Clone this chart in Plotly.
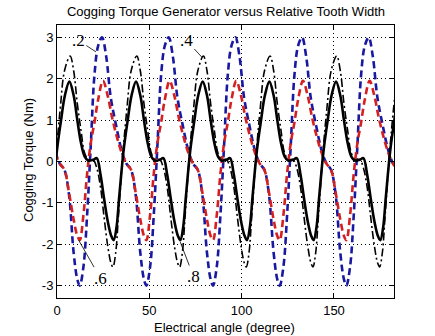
import plotly.graph_objects as go

# ---- data ----
# relative tooth width 0.2 (blue dashed)
x_w02 = [-1.0, 1.5, 4.0, 6.5, 9.0, 11.0,
         12.3, 14.3, 16.3, 18.3, 20.3, 22.3, 24.4, 26.6, 29.1, 32.1, 35.1, 37.6, 40.1, 42.6, 45.1, 47.1,
         48.4, 50.4, 52.4, 54.4, 56.4, 58.4, 60.5, 62.7, 65.2, 68.2, 71.2, 73.7, 76.2, 78.7, 81.2, 83.2,
         84.5, 86.5, 88.5, 90.5, 92.5, 94.5, 96.6, 98.8, 101.3, 104.3, 107.3, 109.8, 112.3, 114.8, 117.3, 119.3,
         120.6, 122.6, 124.6, 126.6, 128.6, 130.6, 132.7, 134.9, 137.4, 140.4, 143.4, 145.9, 148.4, 150.9, 153.4, 155.4,
         156.7, 158.7, 160.7, 162.7, 164.7, 166.7, 168.8, 171.0, 173.5, 176.5, 179.5, 182.0, 184.5]
y_w02 = [0.25, -0.05, -0.2, -0.8, -2.2, -2.85,
         -3.0, -2.55, -1.3, 0.4, 2.1, 2.8, 3.0, 2.55, 1.55, 0.85, 0.25, -0.05, -0.2, -0.8, -2.2, -2.85,
         -3.0, -2.55, -1.3, 0.4, 2.1, 2.8, 3.0, 2.55, 1.55, 0.85, 0.25, -0.05, -0.2, -0.8, -2.2, -2.85,
         -3.0, -2.55, -1.3, 0.4, 2.1, 2.8, 3.0, 2.55, 1.55, 0.85, 0.25, -0.05, -0.2, -0.8, -2.2, -2.85,
         -3.0, -2.55, -1.3, 0.4, 2.1, 2.8, 3.0, 2.55, 1.55, 0.85, 0.25, -0.05, -0.2, -0.8, -2.2, -2.85,
         -3.0, -2.55, -1.3, 0.4, 2.1, 2.8, 3.0, 2.55, 1.55, 0.85, 0.25, -0.05, -0.2]

# relative tooth width 0.4 (black dash-dot)
x_w04 = [-2.8, -0.4, 1.8, 4.1, 7.1, 9.0, 11.0, 13.0, 15.0, 17.0, 19.5, 21.5, 23.5, 25.5, 27.5, 29.2,
         30.3, 31.8, 33.3, 35.7, 37.9, 40.2, 43.2, 45.1, 47.1, 49.1, 51.1, 53.1, 55.6, 57.6, 59.6, 61.6, 63.6, 65.3,
         66.4, 67.9, 69.4, 71.8, 74.0, 76.3, 79.3, 81.2, 83.2, 85.2, 87.2, 89.2, 91.7, 93.7, 95.7, 97.7, 99.7, 101.4,
         102.5, 104.0, 105.5, 107.9, 110.1, 112.4, 115.4, 117.3, 119.3, 121.3, 123.3, 125.3, 127.8, 129.8, 131.8, 133.8, 135.8, 137.5,
         138.6, 140.1, 141.6, 144.0, 146.2, 148.5, 151.5, 153.4, 155.4, 157.4, 159.4, 161.4, 163.9, 165.9, 167.9, 169.9, 171.9, 173.6,
         174.7, 176.2, 177.7, 180.1, 182.3, 184.6]
y_w04 = [-1.3, 0.2, 1.3, 2.2, 2.55, 2.2, 1.4, 0.75, 0.2, 0.05, 0.05, -0.15, -0.6, -1.35, -2.05, -2.45,
         -2.55, -2.2, -1.3, 0.2, 1.3, 2.2, 2.55, 2.2, 1.4, 0.75, 0.2, 0.05, 0.05, -0.15, -0.6, -1.35, -2.05, -2.45,
         -2.55, -2.2, -1.3, 0.2, 1.3, 2.2, 2.55, 2.2, 1.4, 0.75, 0.2, 0.05, 0.05, -0.15, -0.6, -1.35, -2.05, -2.45,
         -2.55, -2.2, -1.3, 0.2, 1.3, 2.2, 2.55, 2.2, 1.4, 0.75, 0.2, 0.05, 0.05, -0.15, -0.6, -1.35, -2.05, -2.45,
         -2.55, -2.2, -1.3, 0.2, 1.3, 2.2, 2.55, 2.2, 1.4, 0.75, 0.2, 0.05, 0.05, -0.15, -0.6, -1.35, -2.05, -2.45,
         -2.55, -2.2, -1.3, 0.2, 1.3, 2.2]

# relative tooth width 0.6 (red dashed)
x_w06 = [-1.0, 1.5, 4.0, 6.5, 9.0, 11.0,
         12.3, 14.3, 16.3, 18.3, 20.3, 22.3, 24.9, 27.4, 29.9, 32.4, 35.1, 37.6, 40.1, 42.6, 45.1, 47.1,
         48.4, 50.4, 52.4, 54.4, 56.4, 58.4, 61.0, 63.5, 66.0, 68.5, 71.2, 73.7, 76.2, 78.7, 81.2, 83.2,
         84.5, 86.5, 88.5, 90.5, 92.5, 94.5, 97.1, 99.6, 102.1, 104.6, 107.3, 109.8, 112.3, 114.8, 117.3, 119.3,
         120.6, 122.6, 124.6, 126.6, 128.6, 130.6, 133.2, 135.7, 138.2, 140.7, 143.4, 145.9, 148.4, 150.9, 153.4, 155.4,
         156.7, 158.7, 160.7, 162.7, 164.7, 166.7, 169.3, 171.8, 174.3, 176.8, 179.5, 182.0, 184.5]
y_w06 = [0.2, -0.05, -0.2, -0.75, -1.4, -1.8,
         -1.9, -1.3, -0.3, 0.45, 0.95, 1.5, 1.95, 1.6, 1.05, 0.6, 0.2, -0.05, -0.2, -0.75, -1.4, -1.8,
         -1.9, -1.3, -0.3, 0.45, 0.95, 1.5, 1.95, 1.6, 1.05, 0.6, 0.2, -0.05, -0.2, -0.75, -1.4, -1.8,
         -1.9, -1.3, -0.3, 0.45, 0.95, 1.5, 1.95, 1.6, 1.05, 0.6, 0.2, -0.05, -0.2, -0.75, -1.4, -1.8,
         -1.9, -1.3, -0.3, 0.45, 0.95, 1.5, 1.95, 1.6, 1.05, 0.6, 0.2, -0.05, -0.2, -0.75, -1.4, -1.8,
         -1.9, -1.3, -0.3, 0.45, 0.95, 1.5, 1.95, 1.6, 1.05, 0.6, 0.2, -0.05, -0.2]

# relative tooth width 0.8 (black solid)
x_w08 = [-2.4, 0.0, 2.2, 4.3, 6.7, 9.0, 11.0, 13.0, 15.0, 17.0, 19.5, 21.5, 23.5, 25.5, 27.5, 29.4,
         30.7, 32.2, 33.7, 36.1, 38.3, 40.4, 42.8, 45.1, 47.1, 49.1, 51.1, 53.1, 55.6, 57.6, 59.6, 61.6, 63.6, 65.5,
         66.8, 68.3, 69.8, 72.2, 74.4, 76.5, 78.9, 81.2, 83.2, 85.2, 87.2, 89.2, 91.7, 93.7, 95.7, 97.7, 99.7, 101.6,
         102.9, 104.4, 105.9, 108.3, 110.5, 112.6, 115.0, 117.3, 119.3, 121.3, 123.3, 125.3, 127.8, 129.8, 131.8, 133.8, 135.8, 137.7,
         139.0, 140.5, 142.0, 144.4, 146.6, 148.7, 151.1, 153.4, 155.4, 157.4, 159.4, 161.4, 163.9, 165.9, 167.9, 169.9, 171.9, 173.8,
         175.1, 176.6, 178.1, 180.5, 182.7, 184.8]
y_w08 = [-0.85, 0.28, 1.0, 1.6, 1.93, 1.6, 1.0, 0.45, 0.12, 0.02, 0.04, 0.08, -0.3, -0.9, -1.45, -1.8,
         -1.9, -1.6, -0.85, 0.28, 1.0, 1.6, 1.93, 1.6, 1.0, 0.45, 0.12, 0.02, 0.04, 0.08, -0.3, -0.9, -1.45, -1.8,
         -1.9, -1.6, -0.85, 0.28, 1.0, 1.6, 1.93, 1.6, 1.0, 0.45, 0.12, 0.02, 0.04, 0.08, -0.3, -0.9, -1.45, -1.8,
         -1.9, -1.6, -0.85, 0.28, 1.0, 1.6, 1.93, 1.6, 1.0, 0.45, 0.12, 0.02, 0.04, 0.08, -0.3, -0.9, -1.45, -1.8,
         -1.9, -1.6, -0.85, 0.28, 1.0, 1.6, 1.93, 1.6, 1.0, 0.45, 0.12, 0.02, 0.04, 0.08, -0.3, -0.9, -1.45, -1.8,
         -1.9, -1.6, -0.85, 0.28, 1.0, 1.6]

x_ticks = [0, 50, 100, 150]
y_ticks = [-3, -2, -1, 0, 1, 2, 3]

# labels: text, pointed-at (x, y), text position (x, y)
label_texts = [".2", ".4", ".6", ".8"]
label_tips = [(21.1, 2.65), (78.5, 2.52), (11.7, -1.9), (66.7, -1.94)]
label_pos = [(11.6, 2.93), (70.0, 2.93), (23.5, -2.82), (73.9, -2.78)]

title_text = "Cogging Torque Generator versus Relative Tooth Width"
x_title = "Electrical angle (degree)"
y_title = "Cogging Torque (Nm)"

SANS = "Liberation Sans, Arial, Helvetica, sans-serif"
SERIF = "Liberation Serif, Times New Roman, serif"

W, H = 435, 336
ML, MR, MT, MB = 57, 41, 25, 38
PW, PH = W - ML - MR, H - MT - MB

fig = go.Figure()
fig.add_trace(go.Scatter(x=x_w02, y=y_w02, mode="lines", name="0.2",
                         line=dict(color="#1818a0", width=2.6, dash="7px,4px", shape="spline", smoothing=1)))
fig.add_trace(go.Scatter(x=x_w04, y=y_w04, mode="lines", name="0.4",
                         line=dict(color="black", width=1.6, dash="8px,3px,2px,3px", shape="spline", smoothing=1)))
fig.add_trace(go.Scatter(x=x_w06, y=y_w06, mode="lines", name="0.6",
                         line=dict(color="#d42020", width=2.6, dash="7px,4px", shape="spline", smoothing=1)))
fig.add_trace(go.Scatter(x=x_w08, y=y_w08, mode="lines", name="0.8",
                         line=dict(color="black", width=2.6, shape="spline", smoothing=1)))

for t, (px, py), (tx, ty) in zip(label_texts, label_tips, label_pos):
    fig.add_annotation(x=px, y=py, ax=tx, ay=ty, axref="x", ayref="y", xref="x", yref="y",
                       text=t, showarrow=True, arrowhead=0, arrowwidth=0.8, arrowcolor="black",
                       standoff=0, startstandoff=0,
                       font=dict(family=SERIF, size=17, color="black"))

# axis titles placed as text annotations (pixel positions measured on the reference)
fig.add_annotation(text=x_title, xref="paper", yref="paper",
                   x=(224 - ML) / PW, y=-(327 - (H - MB)) / PH, xanchor="center", yanchor="middle",
                   showarrow=False, font=dict(family=SANS, size=13, color="black"))
fig.add_annotation(text=y_title, xref="paper", yref="paper", textangle=-90,
                   x=(28 - ML) / PW, y=((H - MB) - 160) / PH, xanchor="center", yanchor="middle",
                   showarrow=False, font=dict(family=SANS, size=13, color="black"))

axis_common = dict(showline=True, linecolor="black", linewidth=1, mirror="ticks",
                   ticks="inside", ticklen=4, tickcolor="black", automargin=False,
                   showgrid=True, gridcolor="black", gridwidth=1, griddash="1px,3px",
                   zeroline=False, tickfont=dict(family=SANS, size=13, color="black"))

fig.update_xaxes(range=[0, 182.5], tickvals=x_ticks, ticktext=[str(v) for v in x_ticks], **axis_common)
fig.update_yaxes(range=[-3.3, 3.3], tickvals=y_ticks, ticktext=[str(v) for v in y_ticks], **axis_common)

fig.update_layout(width=W, height=H, margin=dict(l=ML, r=MR, t=MT, b=MB, autoexpand=False),
                  paper_bgcolor="white", plot_bgcolor="white", showlegend=False,
                  title=dict(text=title_text, x=226 / W, xanchor="center", y=1 - 11 / H, yanchor="middle",
                             font=dict(family=SANS, size=13, color="black")))

fig.write_html("out.html")
